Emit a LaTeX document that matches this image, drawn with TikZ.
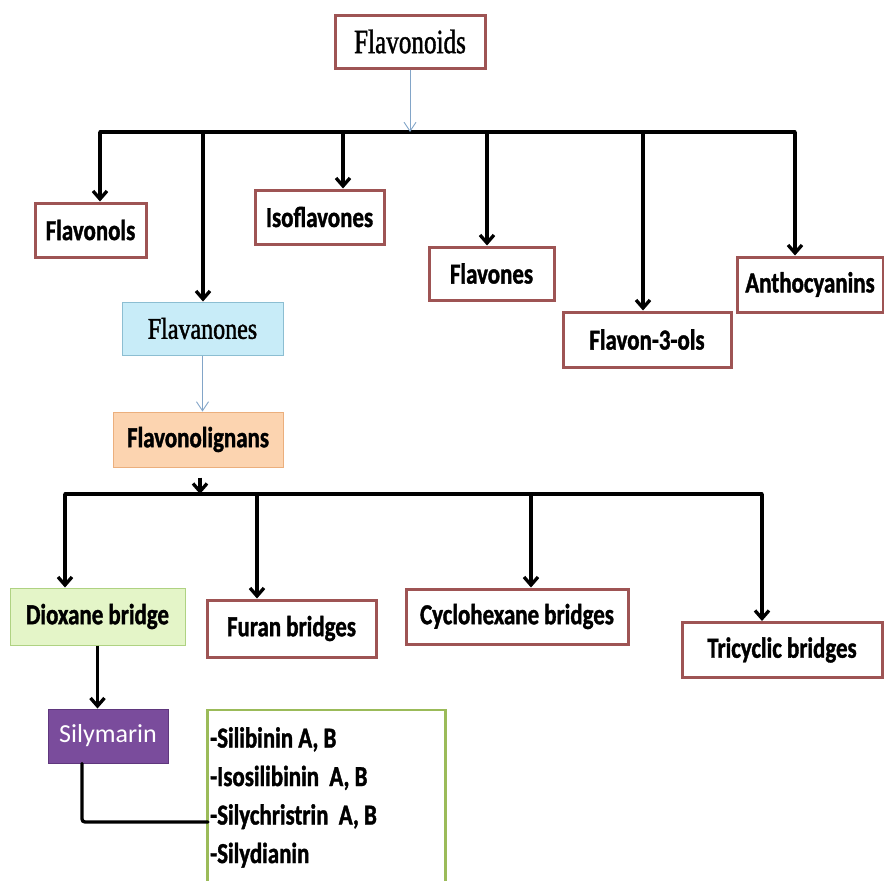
\documentclass[tikz,border=0pt]{standalone}
\usepackage{fontspec}
\setmainfont{Liberation Serif}
\newfontfamily\serifn[FakeStretch=0.74,FakeBold=1.2]{Liberation Serif}
\newfontfamily\serifm[FakeStretch=0.8,FakeBold=1.5]{Liberation Serif}
\newfontfamily\calb[FakeStretch=0.79,FakeBold=1.3]{Carlito}
\newfontfamily\calr{Carlito}
\usetikzlibrary{arrows.meta}
\definecolor{brn}{RGB}{158,84,84}
\definecolor{bluel}{RGB}{130,165,200}
\definecolor{cyanf}{RGB}{200,236,248}
\definecolor{cyanb}{RGB}{140,190,210}
\definecolor{orf}{RGB}{252,212,176}
\definecolor{orb}{RGB}{235,175,125}
\definecolor{grf}{RGB}{228,245,200}
\definecolor{grb}{RGB}{175,210,130}
\definecolor{purf}{RGB}{122,76,156}
\definecolor{purb}{RGB}{95,55,125}
\definecolor{olb}{RGB}{155,187,89}
\tikzset{
  box/.style={draw=brn, line width=3pt, fill=white, inner sep=0pt, font=\calb\bfseries\fontsize{29}{34}\selectfont},
  sbox/.style={draw=brn, line width=3pt, fill=white, inner sep=0pt, font=\serifn\fontsize{34}{38}\selectfont},
  bar/.style={line width=3.3pt, black, line cap=round},
  arr/.style={line width=3.3pt, black, -{Straight Barb[length=8pt,width=14pt]}},
  barr/.style={line width=0.9pt, bluel, -{Straight Barb[length=9pt,width=12pt]}},
}
\begin{document}
\begin{tikzpicture}[x=1pt,y=-1pt]
\useasboundingbox (0,0) rectangle (884,881);
% top level
\node[sbox, minimum width=150pt, minimum height=53pt] (fl) at (410,41.5) {Flavonoids};
\node[box, minimum width=111pt, minimum height=54pt] (fls) at (90.5,230) {Flavonols};
\node[box, minimum width=129pt, minimum height=54pt] (iso) at (319.5,217) {Isoflavones};
\node[box, minimum width=125pt, minimum height=53pt] (fla) at (491.5,273.5) {Flavones};
\node[box, minimum width=168pt, minimum height=55pt] (f3) at (647,339.5) {Flavon-3-ols};
\node[box, minimum width=146pt, minimum height=55pt] (ant) at (810,284.5) {Anthocyanins};
\node[sbox, draw=cyanb, line width=1pt, fill=cyanf, minimum width=161pt, minimum height=53pt, font=\serifm\fontsize{30}{34}\selectfont] (fn) at (202.5,328.5) {Flavanones};
\node[box, draw=orb, line width=1pt, fill=orf, minimum width=170pt, minimum height=55pt] (fnl) at (198,439.5) {Flavonolignans};
% bridges
\node[box, draw=grb, line width=1pt, fill=grf, minimum width=175pt, minimum height=57pt] (dio) at (97.5,616.5) {Dioxane bridge};
\node[box, minimum width=169pt, minimum height=57pt] (fur) at (291.5,628.5) {Furan bridges};
\node[box, minimum width=222pt, minimum height=55pt] (cyc) at (517,616.5) {Cyclohexane bridges};
\node[box, minimum width=200pt, minimum height=55pt] (tri) at (782,650) {Tricyclic bridges};
\node[draw=purb, line width=1pt, fill=purf, text=white, inner sep=0pt, minimum width=120pt, minimum height=54pt, font=\calr\fontsize{26}{30}\selectfont] (sil) at (108,736) {Silymarin};
\node[draw=olb, line width=2.4pt, fill=white, minimum width=238pt, minimum height=180pt, inner sep=0pt] (lst) at (326.5,800) {};
\node[anchor=north west, align=left, inner sep=0pt, font=\calb\bfseries\fontsize{29}{38.5}\selectfont] (lt) at (210,727) {-Silibinin A, B\\-Isosilibinin \ A, B\\-Silychristrin \ A, B\\-Silydianin};
% bus 1
\coordinate (b1) at (100,132);
\coordinate (b2) at (203,132);
\coordinate (b3) at (343,132);
\coordinate (b4) at (487,132);
\coordinate (b5) at (643,132);
\coordinate (b6) at (795,132);
\draw[bar] (b1) -- (b6);
\draw[barr] (fl.south) -- (fl.south |- b1);
\draw[arr] (b1) -- (b1 |- fls.north);
\draw[arr] (b2) -- (b2 |- fn.north);
\draw[arr] (b3) -- (b3 |- iso.north);
\draw[arr] (b4) -- (b4 |- fla.north);
\draw[arr] (b5) -- (b5 |- f3.north);
\draw[arr] (b6) -- (b6 |- ant.north);
\draw[barr] (fn.south) -- (fn.south |- fnl.north);
% bus 2
\coordinate (c1) at (65,494);
\coordinate (c2) at (257,494);
\coordinate (c3) at (531,494);
\coordinate (c4) at (762,494);
\draw[bar] (c1) -- (c4);
\draw[arr] ([xshift=2pt,yshift=-10pt]fnl.south) -- ([xshift=2pt]fnl.south |- c1);
\draw[arr] (c1) -- (c1 |- dio.north);
\draw[arr] (c2) -- (c2 |- fur.north);
\draw[arr] (c3) -- (c3 |- cyc.north);
\draw[arr] (c4) -- (c4 |- tri.north);
\draw[arr] (dio.south) -- (sil.north -| dio.south);
\coordinate (lk) at (208,822);
\draw[bar, rounded corners=3pt] ([xshift=-26pt]sil.south) |- (lk);
\end{tikzpicture}
\end{document}
